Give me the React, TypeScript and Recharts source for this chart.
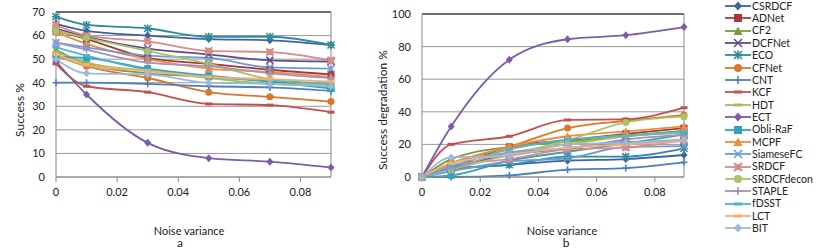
import React from "react";
import { LineChart, Line, XAxis, YAxis, CartesianGrid, ReferenceLine } from "recharts";

const NOISE = [0, 0.01, 0.03, 0.05, 0.07, 0.09];
const X_TICKS = [0, 0.02, 0.04, 0.06, 0.08];
const SUCCESS_TICKS = [0, 10, 20, 30, 40, 50, 60, 70];
const DEGR_TICKS = [0, 20, 40, 60, 80, 100];

const TRACKERS = [
  "CSRDCF", "ADNet", "CF2", "DCFNet", "ECO", "CFNet", "CNT", "KCF", "HDT", "ECT",
  "Obli-RaF", "MCPF", "SiameseFC", "SRDCF", "SRDCFdecon", "STAPLE", "fDSST", "LCT", "BIT",
];

// success % (panel a)
const S_CSRDCF = [65, 62, 60, 58.5, 58, 56];
const S_ADNET = [62, 58.5, 50.5, 48, 45.5, 43.5];
const S_CF2 = [54, 48, 44, 42.5, 40.5, 38.5];
const S_DCFNET = [63, 59.5, 54.5, 52, 49.5, 49];
const S_ECO = [68, 64.5, 63, 59.5, 59.5, 56];
const S_CFNET = [51.5, 47, 42, 36, 34, 32];
const S_CNT = [40, 40, 39.5, 38.5, 38, 36.5];
const S_KCF = [48, 38.5, 36, 31, 30.5, 27.5];
const S_HDT = [53, 48.5, 45, 42, 39.5, 38.5];
const S_ECT = [49, 35, 14.5, 8, 6.5, 4];
const S_OBLI = [51, 50.5, 46, 43, 40.5, 37.5];
const S_MCPF = [61.5, 56.5, 50, 46, 44.5, 42.5];
const S_SIAM = [57, 55, 51.5, 50.5, 46.5, 46];
const S_SRDCF = [64.5, 60, 57.5, 53.5, 53, 49.5];
const S_DECON = [62, 59, 53.5, 48, 41.5, 39];
const S_STAPLE = [57, 54, 48.5, 47, 44, 42];
const S_FDSST = [55, 51.5, 45.5, 42.5, 41, 39.5];
const S_LCT = [52, 47.5, 45, 42.5, 41.5, 40.5];
const S_BIT = [50, 44, 43.5, 40, 39.5, 38.5];

// success degradation % (panel b)
const D_CSRDCF = [0, 4.5, 7.5, 10, 11, 13.5];
const D_ADNET = [0, 5.5, 18.5, 22.5, 26.5, 30];
const D_CF2 = [0, 11, 18.5, 21.5, 25, 28.5];
const D_DCFNET = [0, 5.5, 13.5, 17.5, 21.5, 22];
const D_ECO = [0, 5, 7.5, 12.5, 12.5, 17.5];
const D_CFNET = [0, 8.5, 18.5, 30, 34.5, 38];
const D_CNT = [0, 0, 1, 4.5, 5.5, 9];
const D_KCF = [0, 20, 25, 35, 35.5, 42.5];
const D_HDT = [0, 8.5, 15, 20, 25, 27];
const D_ECT = [0, 31, 72, 84.5, 87, 92];
const D_OBLI = [0, 1, 10, 15.5, 20.5, 26];
const D_MCPF = [0, 8, 18.5, 25, 28, 31];
const D_SIAM = [0, 3.5, 9.5, 11.5, 18.5, 19];
const D_SRDCF = [0, 7, 11, 17, 18, 23];
const D_DECON = [0, 4.5, 13.5, 22.5, 33.5, 37];
const D_STAPLE = [0, 5, 15, 17.5, 23, 26];
const D_FDSST = [0, 6.5, 17, 23, 25.5, 28];
const D_LCT = [0, 8.5, 13.5, 18, 20, 22];
const D_BIT = [0, 12, 13, 20, 21, 23];

const SUCCESS = [S_CSRDCF, S_ADNET, S_CF2, S_DCFNET, S_ECO, S_CFNET, S_CNT, S_KCF, S_HDT, S_ECT,
  S_OBLI, S_MCPF, S_SIAM, S_SRDCF, S_DECON, S_STAPLE, S_FDSST, S_LCT, S_BIT];
const DEGR = [D_CSRDCF, D_ADNET, D_CF2, D_DCFNET, D_ECO, D_CFNET, D_CNT, D_KCF, D_HDT, D_ECT,
  D_OBLI, D_MCPF, D_SIAM, D_SRDCF, D_DECON, D_STAPLE, D_FDSST, D_LCT, D_BIT];

const STYLE = [
  { color: "#3b64a0", shape: "diamond" },
  { color: "#a8393a", shape: "square" },
  { color: "#7d9b3c", shape: "triangle" },
  { color: "#614b8c", shape: "x" },
  { color: "#2f8c9e", shape: "star" },
  { color: "#d9782c", shape: "circle" },
  { color: "#4d7fc0", shape: "plus" },
  { color: "#c4504c", shape: "dash" },
  { color: "#9dc05c", shape: "dash" },
  { color: "#7c5ca8", shape: "diamond" },
  { color: "#31a3bd", shape: "square" },
  { color: "#f08d3c", shape: "triangle" },
  { color: "#6f99d6", shape: "x" },
  { color: "#db8a86", shape: "xsquare" },
  { color: "#a5c568", shape: "circle" },
  { color: "#a391c4", shape: "plus" },
  { color: "#4fb4cc", shape: "dash" },
  { color: "#f8ad76", shape: "dash" },
  { color: "#9cb8dc", shape: "diamond" },
];

const rows = (vals: number[][]) =>
  NOISE.map((n, i) => {
    const r: any = { noise: n };
    TRACKERS.forEach((t, k) => (r[t] = vals[k][i]));
    return r;
  });

const successData = rows(SUCCESS);
const degrData = rows(DEGR);

function Marker({ shape, x, y, color, r = 3.5 }: any) {
  switch (shape) {
    case "diamond":
      return <polygon points={`${x},${y - r - 0.5} ${x + r},${y} ${x},${y + r + 0.5} ${x - r},${y}`} fill={color} />;
    case "square":
      return <rect x={x - r} y={y - r} width={2 * r} height={2 * r} fill={color} />;
    case "xsquare":
      return (
        <g stroke={color} strokeWidth={2}>
          <line x1={x - r} y1={y - r} x2={x + r} y2={y + r} />
          <line x1={x - r} y1={y + r} x2={x + r} y2={y - r} />
          <rect x={x - 2} y={y - 2} width={4} height={4} fill={color} />
        </g>
      );
    case "triangle":
      return <polygon points={`${x},${y - r - 0.5} ${x + r + 0.5},${y + r} ${x - r - 0.5},${y + r}`} fill={color} />;
    case "circle":
      return <circle cx={x} cy={y} r={r} fill={color} />;
    case "x":
      return (
        <g stroke={color} strokeWidth={1.6}>
          <line x1={x - r} y1={y - r} x2={x + r} y2={y + r} />
          <line x1={x - r} y1={y + r} x2={x + r} y2={y - r} />
        </g>
      );
    case "star":
      return (
        <g stroke={color} strokeWidth={1.6}>
          <line x1={x - r} y1={y - r} x2={x + r} y2={y + r} />
          <line x1={x - r} y1={y + r} x2={x + r} y2={y - r} />
          <line x1={x} y1={y - r - 0.5} x2={x} y2={y + r + 0.5} />
          <line x1={x - r - 0.5} y1={y} x2={x + r + 0.5} y2={y} />
        </g>
      );
    case "plus":
      return (
        <g stroke={color} strokeWidth={1.6}>
          <line x1={x} y1={y - r} x2={x} y2={y + r} />
          <line x1={x - r} y1={y} x2={x + r} y2={y} />
        </g>
      );
    default:
      return <rect x={x - r} y={y - 1.5} width={2 * r} height={3} fill={color} />;
  }
}

const font = "Lato, 'Open Sans', sans-serif";
const tick = { fill: "#222", fontSize: 11, fontFamily: font };
const fmtX = (v: number) => (v === 0 ? "0" : v.toFixed(2));

function Panel({ data, ticks, max, width, yw, marginRight, top }: any) {
  return (
    <LineChart width={width} height={249} data={data} margin={{ top, right: marginRight, left: 0, bottom: 42 }}>
      <CartesianGrid vertical={false} stroke="#9a9a9a" />
      <XAxis
        dataKey="noise"
        type="number"
        domain={[0, 0.09]}
        ticks={X_TICKS}
        tickFormatter={fmtX}
        tick={tick}
        tickSize={5}
        tickMargin={6}
        stroke="#888"
      />
      <YAxis domain={[0, max]} ticks={ticks} tick={tick} width={yw} tickSize={0} tickMargin={11} stroke="#888" interval={0} />
      <ReferenceLine y={max} stroke="#111" strokeWidth={1.2} />
      <ReferenceLine x={0.09} stroke="#888" />
      {TRACKERS.map((t, k) => (
        <Line
          key={t}
          dataKey={t}
          type="monotone"
          stroke={STYLE[k].color}
          strokeWidth={1.8}
          isAnimationActive={false}
          dot={(p: any) => <Marker key={`${t}-${p.index}`} shape={STYLE[k].shape} x={p.cx} y={p.cy} color={STYLE[k].color} />}
        />
      ))}
    </LineChart>
  );
}

const txt: React.CSSProperties = {
  position: "absolute", fontFamily: font, fontSize: 11, color: "#222", whiteSpace: "nowrap", lineHeight: 1,
};

export default function App() {
  return (
    <div style={{ position: "absolute", left: 0, top: 0, width: 830, height: 249, background: "#fff", overflow: "hidden" }}>
      <div style={{ position: "absolute", left: 0, top: 0 }}>
        <Panel data={successData} ticks={SUCCESS_TICKS} max={70} width={340} yw={56} marginRight={9} top={12} />
      </div>
      <div style={{ position: "absolute", left: 360, top: 0 }}>
        <Panel data={degrData} ticks={DEGR_TICKS} max={100} width={330} yw={62} marginRight={6} top={14} />
      </div>

      <div style={{ ...txt, left: 20, top: 110, fontSize: 12, transform: "translate(-50%,-50%) rotate(-90deg)" }}>Success %</div>
      <div style={{ ...txt, left: 383, top: 110, fontSize: 12, transform: "translate(-50%,-50%) rotate(-90deg)" }}>Success degradation %</div>
      <div style={{ ...txt, left: 189, top: 230, transform: "translate(-50%,-50%)" }}>Noise variance</div>
      <div style={{ ...txt, left: 180, top: 243, transform: "translate(-50%,-50%)", fontSize: 12 }}>a</div>
      <div style={{ ...txt, left: 562, top: 230, transform: "translate(-50%,-50%)" }}>Noise variance</div>
      <div style={{ ...txt, left: 566, top: 243, transform: "translate(-50%,-50%)", fontSize: 12 }}>b</div>

      {TRACKERS.map((t, k) => (
        <div key={t} style={{ position: "absolute", left: 725, top: 6 + k * 12.35, height: 12, display: "flex", alignItems: "center", transform: "translateY(-50%)" }}>
          <svg width={26} height={12}>
            <line x1={0} y1={6} x2={26} y2={6} stroke={STYLE[k].color} strokeWidth={1.8} />
            <Marker shape={STYLE[k].shape} x={13} y={6} color={STYLE[k].color} r={4} />
          </svg>
          <span style={{ fontFamily: font, fontSize: 10.5, color: "#222", marginLeft: 1, lineHeight: 1 }}>{t}</span>
        </div>
      ))}
    </div>
  );
}
